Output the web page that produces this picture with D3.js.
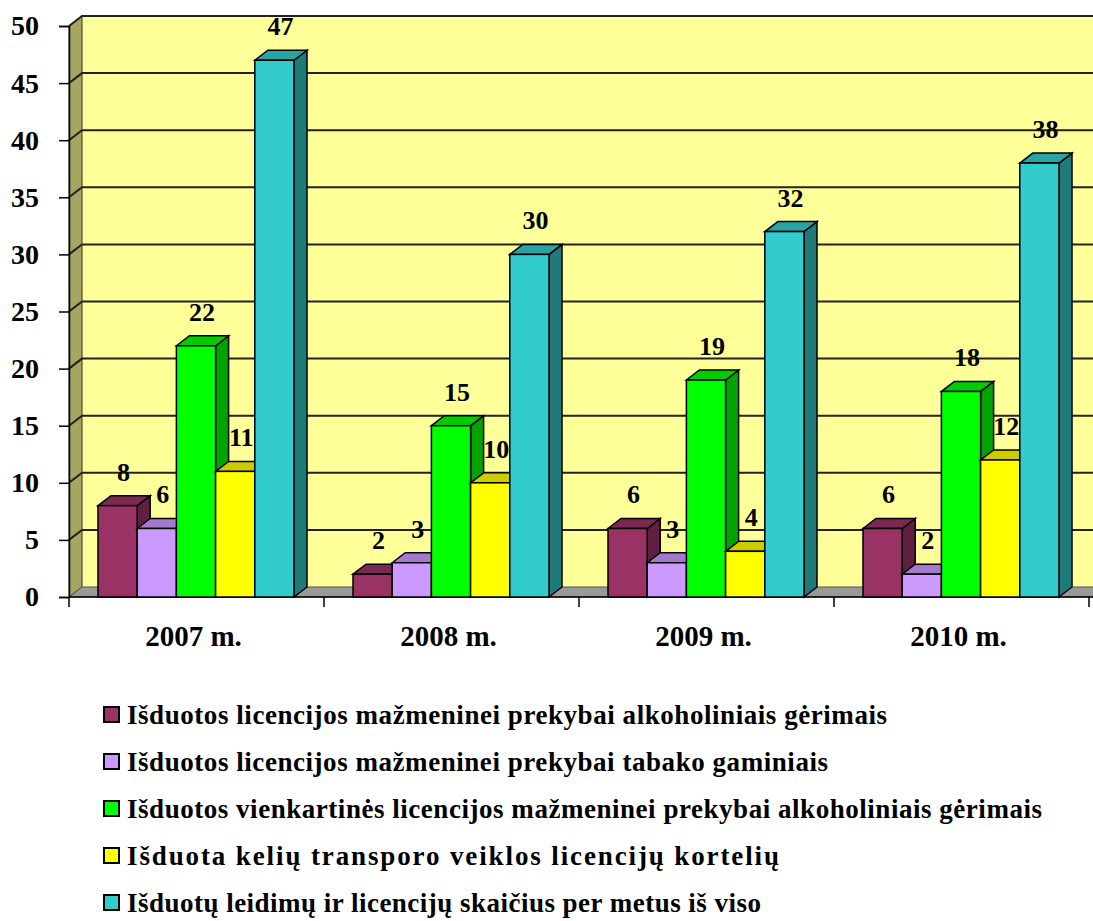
<!DOCTYPE html>
<html>
<head>
<meta charset="utf-8">
<script src="https://cdn.jsdelivr.net/npm/d3@7"></script>
<style>
  body { margin: 0; background: #fff; }
  svg { display: block; }
  text { font-family: "Liberation Serif", "Times New Roman", serif; font-weight: bold; }
</style>
</head>
<body>
<div id="chart"></div>
<script>
const years = ['2007 m.', '2008 m.', '2009 m.', '2010 m.'];
const seriesNames = [
  'Išduotos licencijos mažmeninei prekybai alkoholiniais gėrimais',
  'Išduotos licencijos mažmeninei prekybai tabako gaminiais',
  'Išduotos vienkartinės licencijos mažmeninei prekybai alkoholiniais gėrimais',
  'Išduota kelių transporo veiklos licencijų kortelių',
  'Išduotų leidimų ir licencijų skaičius per metus iš viso'
];
const alcohol = [8, 2, 6, 6];
const tobacco = [6, 3, 3, 2];
const oneTime = [22, 15, 19, 18];
const transport = [11, 10, 4, 12];
const total = [47, 30, 32, 38];
const yTicks = [0, 5, 10, 15, 20, 25, 30, 35, 40, 45, 50];

const series = [alcohol, tobacco, oneTime, transport, total];
const colors = [
  { front: '#993366', top: '#7a2952', side: '#5e1f40' },
  { front: '#cc99ff', top: '#a37acc', side: '#7a5c99' },
  { front: '#00ff00', top: '#00cc00', side: '#00a300' },
  { front: '#ffff00', top: '#cccc00', side: '#999900' },
  { front: '#33cccc', top: '#29a3a3', side: '#1f7a7a' }
];
const legendWidths = [760, 701, 915, 652, 634];

const width = 1093, height = 921;
const dx = 13, dy = -10; // 3d depth offset

const svg = d3.select('#chart').append('svg')
  .attr('width', width)
  .attr('height', height);

const x = d3.scaleBand().domain(years).range([69, 1089]);
const inner = d3.scaleBand().domain(d3.range(5)).range([29, 225]);
const y = d3.scaleLinear().domain([0, 50]).range([597, 26]);

const x0 = x.range()[0], x1 = x.range()[1];
const y0 = y(0), yTop = y(50);

// back wall
svg.append('rect')
  .attr('x', x0 + dx).attr('y', yTop + dy)
  .attr('width', width - x0).attr('height', y0 - yTop)
  .attr('fill', '#ffff99');

// side wall
svg.append('path')
  .attr('d', `M${x0},${yTop}L${x0 + dx},${yTop + dy}L${x0 + dx},${y0 + dy}L${x0},${y0}Z`)
  .attr('fill', '#a6a663')
  .attr('stroke', '#333').attr('stroke-width', 1);

// gridlines on the walls
yTicks.filter(d => d > 0).forEach(v => {
  svg.append('path')
    .attr('d', `M${x0},${y(v)}L${x0 + dx},${y(v) + dy}L${width + 5},${y(v) + dy}`)
    .attr('fill', 'none')
    .attr('stroke', '#222')
    .attr('stroke-width', 2);
});

// floor
svg.append('path')
  .attr('d', `M${x0},${y0}L${x0 + dx},${y0 + dy}L${width + 20},${y0 + dy}L${width + 20},${y0}Z`)
  .attr('fill', '#999999')
  .attr('stroke', '#555').attr('stroke-width', 1);

// y axis
const yAxis = svg.append('g')
  .attr('transform', `translate(${x0},0)`)
  .call(d3.axisLeft(y).tickValues(yTicks).tickSize(10).tickPadding(20));
yAxis.select('.domain').attr('stroke', '#000').attr('stroke-width', 1.5);
yAxis.selectAll('.tick line').attr('stroke', '#000').attr('stroke-width', 1.5);
yAxis.selectAll('.tick text')
  .attr('font-family', '"Liberation Serif", serif')
  .attr('font-weight', 'bold')
  .attr('font-size', 28)
  .attr('fill', '#000');

// x axis baseline and boundary ticks
svg.append('line')
  .attr('x1', x0).attr('x2', width)
  .attr('y1', y0).attr('y2', y0)
  .attr('stroke', '#000').attr('stroke-width', 1.5);
years.map(d => x(d)).concat([x1]).forEach(px => {
  svg.append('line')
    .attr('x1', px).attr('x2', px)
    .attr('y1', y0).attr('y2', y0 + 10)
    .attr('stroke', '#000').attr('stroke-width', 1.5);
});
svg.selectAll('.cat')
  .data(years)
  .enter()
  .append('text')
  .attr('class', 'cat')
  .attr('x', d => x(d) + x.bandwidth() / 2 - 3)
  .attr('y', 646)
  .attr('text-anchor', 'middle')
  .attr('font-size', 29)
  .text(d => d);

// bars, drawn left to right so each covers the previous one's side
const bw = inner.bandwidth();
years.forEach((yr, i) => {
  series.forEach((s, k) => {
    const v = s[i];
    const bx = x(yr) + inner(k);
    const by = y(v);
    const g = svg.append('g');
    const c = colors[k];
    // side face
    g.append('path')
      .attr('d', `M${bx + bw},${by}L${bx + bw + dx},${by + dy}L${bx + bw + dx},${y0 + dy}L${bx + bw},${y0}Z`)
      .attr('fill', c.side).attr('stroke', '#000').attr('stroke-width', 1.5);
    // top face
    g.append('path')
      .attr('d', `M${bx},${by}L${bx + dx},${by + dy}L${bx + bw + dx},${by + dy}L${bx + bw},${by}Z`)
      .attr('fill', c.top).attr('stroke', '#000').attr('stroke-width', 1.5);
    // front face
    g.append('rect')
      .attr('x', bx).attr('y', by)
      .attr('width', bw).attr('height', y0 - by)
      .attr('fill', c.front).attr('stroke', '#000').attr('stroke-width', 1.5);
    // value label
    g.append('text')
      .attr('x', bx + bw / 2 + 6)
      .attr('y', by - 25)
      .attr('text-anchor', 'middle')
      .attr('font-size', 26)
      .text(v);
  });
});

// legend
const legend = svg.append('g');
seriesNames.forEach((name, k) => {
  const ly = 715 + k * 47;
  legend.append('rect')
    .attr('x', 104).attr('y', ly - 8)
    .attr('width', 15).attr('height', 15)
    .attr('fill', colors[k].front)
    .attr('stroke', '#000').attr('stroke-width', 2);
  legend.append('text')
    .attr('x', 127)
    .attr('y', ly + 9)
    .attr('font-size', 27)
    .attr('textLength', legendWidths[k])
    .attr('lengthAdjust', 'spacing')
    .text(name);
});
</script>
</body>
</html>
